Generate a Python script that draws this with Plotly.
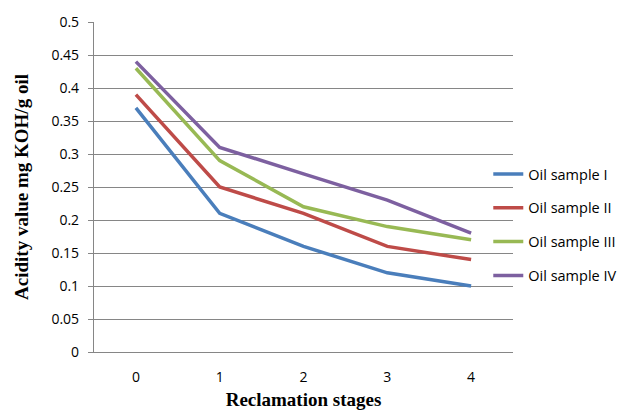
import plotly.graph_objects as go

stages = ["0", "1", "2", "3", "4"]
sample_1 = [0.37, 0.21, 0.16, 0.12, 0.10]
sample_2 = [0.39, 0.25, 0.21, 0.16, 0.14]
sample_3 = [0.43, 0.29, 0.22, 0.19, 0.17]
sample_4 = [0.44, 0.31, 0.27, 0.23, 0.18]
names = ["Oil sample I", "Oil sample II", "Oil sample III", "Oil sample IV"]
colors = ["#4A7EBB", "#BE4B48", "#98B954", "#7D60A0"]

fig = go.Figure()
for i, (name, vals) in enumerate(zip(names, [sample_1, sample_2, sample_3, sample_4])):
    fig.add_trace(go.Scatter(
        x=stages, y=vals, mode="lines", name=name,
        line=dict(color=colors[i], width=3.5),
        legendgroup=f"g{i}",
    ))

fig.update_layout(
    width=624, height=410,
    margin=dict(l=94, r=111, t=22, b=58, autoexpand=False),
    paper_bgcolor="white", plot_bgcolor="white",
    font=dict(family="Open Sans, Liberation Sans, sans-serif", size=14, color="#000000"),
    showlegend=True,
    legend=dict(
        x=0.941, xanchor="left", y=0.385, yanchor="middle",
        font=dict(size=14.5, color="#000000"),
        tracegroupgap=12,
        bgcolor="rgba(0,0,0,0)",
        itemwidth=30,
    ),
    xaxis=dict(
        type="category",
        range=[-0.5, 4.5],
        automargin=False,
        showgrid=False,
        showline=True, linecolor="#868686", linewidth=1.2,
        ticks="", ticklabelstandoff=12,
        tickfont=dict(size=14),
        title=dict(text="<b>Reclamation stages</b>",
                   font=dict(family="Liberation Serif, Times New Roman, serif", size=19, color="#000000"),
                   standoff=16),
    ),
    yaxis=dict(
        range=[0, 0.5],
        dtick=0.05,
        automargin=False,
        showgrid=True, gridcolor="#868686", gridwidth=1.2,
        showline=True, linecolor="#868686", linewidth=1.2,
        ticks="outside", ticklen=5, tickcolor="#868686", tickwidth=1.2,
        ticklabelstandoff=6,
        tickfont=dict(size=14),
        zeroline=False,
        title=dict(text="<b>Acidity value mg KOH/g oil</b>",
                   font=dict(family="Liberation Serif, Times New Roman, serif", size=19, color="#000000"),
                   standoff=17),
    ),
)

fig.write_html("out.html")
